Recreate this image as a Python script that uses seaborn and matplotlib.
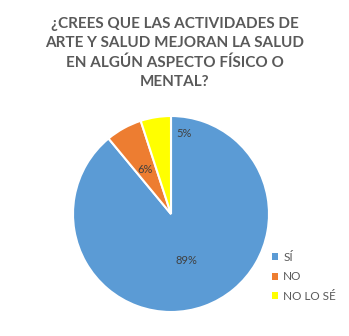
import matplotlib
matplotlib.use("Agg")
import matplotlib.pyplot as plt
import seaborn as sns

categories = ["SÍ", "NO", "NO LO SÉ"]
values = [89, 6, 5]
title = "¿CREES QUE LAS ACTIVIDADES DE\nARTE Y SALUD MEJORAN LA SALUD\nEN ALGÚN ASPECTO FÍSICO O\nMENTAL?"

sns.set_theme(style="white")
plt.rcParams['font.family'] = ['Lato', 'DejaVu Sans']
colors = sns.color_palette(["#5B9BD5", "#ED7D31", "#FFFF00"])

fig = plt.figure(figsize=(3.49, 3.36), dpi=100)
fig.patch.set_facecolor("white")
ax = fig.add_axes([73/349, 24/336, 196/349, 196/336])
wedges, texts, autotexts = ax.pie(values, colors=colors, startangle=90, counterclock=False,
                                  autopct=lambda p: f"{p:.0f}%", pctdistance=0.5,
                                  wedgeprops=dict(edgecolor="white", linewidth=1.5),
                                  textprops=dict(color="#404040", fontsize=8))
label_pos = [(0.16, -0.47), (-0.26, 0.45), (0.13, 0.82)]
for t, pos in zip(autotexts, label_pos):
    t.set_position(pos)
ax.set_xlim(-1, 1)
ax.set_ylim(-1, 1)
ax.set_aspect("equal")
ax.axis("off")

fig.text(0.5, 1 - 53/336, title, ha="center", va="center", fontsize=11,
         fontweight="bold", color="#595959", linespacing=1.45)

leg = fig.legend(wedges, categories, loc="upper left", bbox_to_anchor=(272/349, 1 - 252/336),
                 frameon=False, fontsize=8.5, handlelength=0.55, handleheight=0.55,
                 handletextpad=0.4, labelspacing=0.7, borderaxespad=0, borderpad=0)
for t in leg.get_texts():
    t.set_color("#595959")
for h in leg.legend_handles:
    h.set_linewidth(0)

fig.savefig("out.png", dpi=100)
